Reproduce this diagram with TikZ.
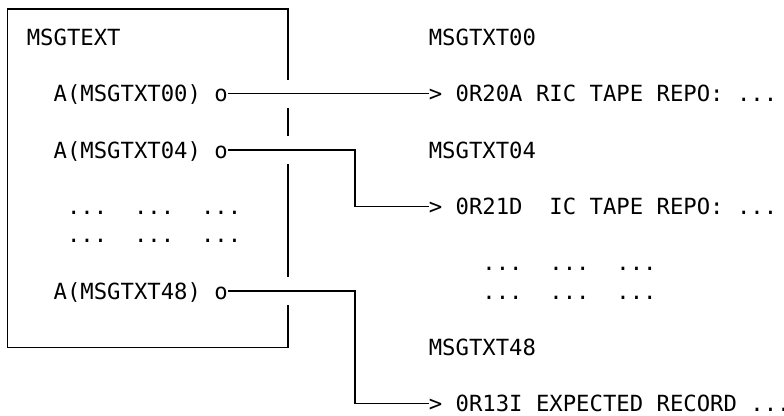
\documentclass[tikz,border=0pt]{standalone}
\usepackage{fontspec}
\newfontfamily\monofont{DejaVu Sans Mono}
\begin{document}
\begin{tikzpicture}[x=1pt,y=-1pt,
  txt/.style={anchor=west,inner sep=0pt,outer sep=0pt,
    font=\monofont\fontsize{22.26pt}{26pt}\selectfont,
    text height=18pt,text depth=1.8pt},
  wire/.style={line width=1.3pt,line join=miter,black}]
\path[use as bounding box] (0,0) rectangle (784,415);
% box with gaps on the right side
\coordinate (tl) at (7.5,9);
\coordinate (br) at (288,347.4);
\draw[wire] (288,79.5) -- (288,9) -- (tl) -- (7.5,347.4) -- (br) -- (288,305.1);
\draw[wire] (288,107.7) -- (288,135.9);
\draw[wire] (288,164.1) -- (288,276.9);
% texts inside the box
\node[txt] (title) at (26.8,37.2) {MSGTEXT};
\node[txt] (a00) at (53.6,93.6) {A(MSGTXT00)};
\node[txt] (o00) at (214.4,93.6) {o};
\node[txt] (a04) at (53.6,150) {A(MSGTXT04)};
\node[txt] (o04) at (214.4,150) {o};
\node[txt] (d1) at (67,206.4) {...~~...~~...};
\node[txt] (d2) at (67,234.6) {...~~...~~...};
\node[txt] (a48) at (53.6,291) {A(MSGTXT48)};
\node[txt] (o48) at (214.4,291) {o};
% texts on the right
\node[txt] (m00) at (428.8,37.2) {MSGTXT00};
\node[txt] (t00) at (428.8,93.6) {> 0R20A RIC TAPE REPO: ...};
\node[txt] (m04) at (428.8,150) {MSGTXT04};
\node[txt] (t04) at (428.8,206.4) {> 0R21D~~IC TAPE REPO: ...};
\node[txt] (d3) at (482.4,262.8) {...~~...~~...};
\node[txt] (d4) at (482.4,291) {...~~...~~...};
\node[txt] (m48) at (428.8,347.4) {MSGTXT48};
\node[txt] (t48) at (428.8,403.8) {> 0R13I EXPECTED RECORD ...};
% connectors
\coordinate (bx) at (355.1,0);
\draw[wire] (o00.east) -- (t00.west);
\draw[wire] (o04.east) -- (o04.east -| bx) |- (t04.west);
\draw[wire] (o48.east) -- (o48.east -| bx) |- (t48.west);
\end{tikzpicture}
\end{document}
